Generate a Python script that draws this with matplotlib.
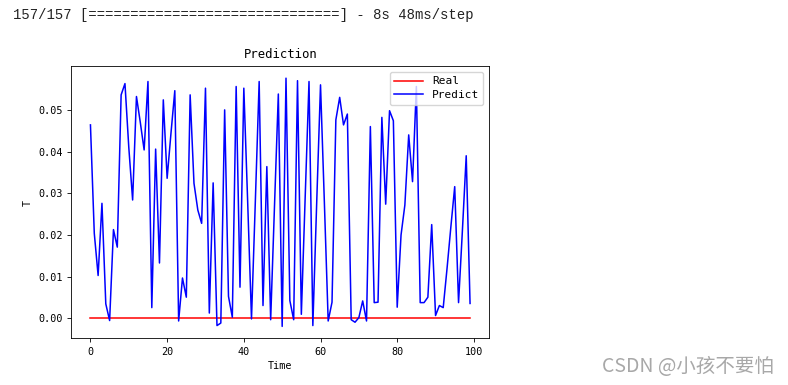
import numpy as np
import matplotlib
matplotlib.use("Agg")
import matplotlib.pyplot as plt

# DATA
time_steps = list(range(100))
real = [0.0] * 100
predict = [
    0.0464, 0.0204, 0.0103, 0.0276, 0.0035, -0.0005, 0.0213, 0.0171, 0.0536, 0.0563,
    0.0410, 0.0284, 0.0532, 0.0470, 0.0404, 0.0568, 0.0026, 0.0406, 0.0133, 0.0524,
    0.0336, 0.0444, 0.0546, -0.0006, 0.0097, 0.0051, 0.0536, 0.0324, 0.0260, 0.0228,
    0.0552, 0.0013, 0.0325, -0.0017, -0.0011, 0.0500, 0.0053, 0.0003, 0.0556, 0.0075,
    0.0552, 0.0280, -0.0001, 0.0280, 0.0568, 0.0031, 0.0364, -0.0003, 0.0270, 0.0538,
    -0.0019, 0.0576, 0.0043, -0.0003, 0.0570, 0.0010, 0.0290, 0.0568, -0.0017, 0.0276,
    0.0560, 0.0280, -0.0006, 0.0039, 0.0476, 0.0530, 0.0464, 0.0490, -0.0003, -0.0009,
    0.0002, 0.0042, -0.0006, 0.0460, 0.0038, 0.0039, 0.0482, 0.0274, 0.0498, 0.0474,
    0.0027, 0.0200, 0.0272, 0.0440, 0.0328, 0.0556, 0.0038, 0.0038, 0.0051, 0.0225,
    0.0007, 0.0031, 0.0026, 0.0120, 0.0220, 0.0316, 0.0038, 0.0210, 0.0390, 0.0036,
]
x_ticks = [0, 20, 40, 60, 80, 100]
y_ticks = [0.00, 0.01, 0.02, 0.03, 0.04, 0.05]
progress_line = "157/157 [" + "=" * 30 + "] - 8s 48ms/step"
watermark = "CSDN @小孩不要怕"

plt.rcParams["font.family"] = ["DejaVu Sans Mono", "Noto Sans CJK SC"]
plt.rcParams["font.size"] = 7.3
plt.rcParams["axes.linewidth"] = 0.6
plt.rcParams["xtick.major.size"] = 2.6
plt.rcParams["ytick.major.size"] = 2.6
plt.rcParams["xtick.major.width"] = 0.6
plt.rcParams["ytick.major.width"] = 0.6

fig = plt.figure(figsize=(7.88, 3.85), dpi=100)
ax = fig.add_axes([0.0907, 0.1208, 0.5299, 0.7065])

# ==========================================
# Real vs Predict
# ==========================================
ax.plot(time_steps, real, color="red", linewidth=1.1, label="Real")
ax.plot(time_steps, predict, color="blue", linewidth=1.1, label="Predict")
ax.set_title("Prediction", fontsize=8.8, pad=6)
ax.set_xlabel("Time", labelpad=3)
ax.set_ylabel("T", labelpad=4)
ax.set_xticks(x_ticks)
ax.set_yticks(y_ticks)
ax.set_ylim(-0.0048, 0.0604)
ax.yaxis.set_major_formatter(matplotlib.ticker.FormatStrFormatter("%.2f"))
ax.legend(loc="upper right", fontsize=8, handlelength=2.6, borderpad=0.4,
          labelspacing=0.35, framealpha=0.8)

# notebook output line above the figure and the site watermark
fig.text(13 / 788, 1 - 15 / 385, progress_line, family="Liberation Mono",
         fontsize=10, color="#222222", va="center", ha="left")
fig.text(602 / 788, 1 - 366 / 385, watermark, family=["Noto Sans CJK SC"],
         fontsize=14, color="#a8a8a8", va="center", ha="left")

fig.savefig("out.png", dpi=100)
